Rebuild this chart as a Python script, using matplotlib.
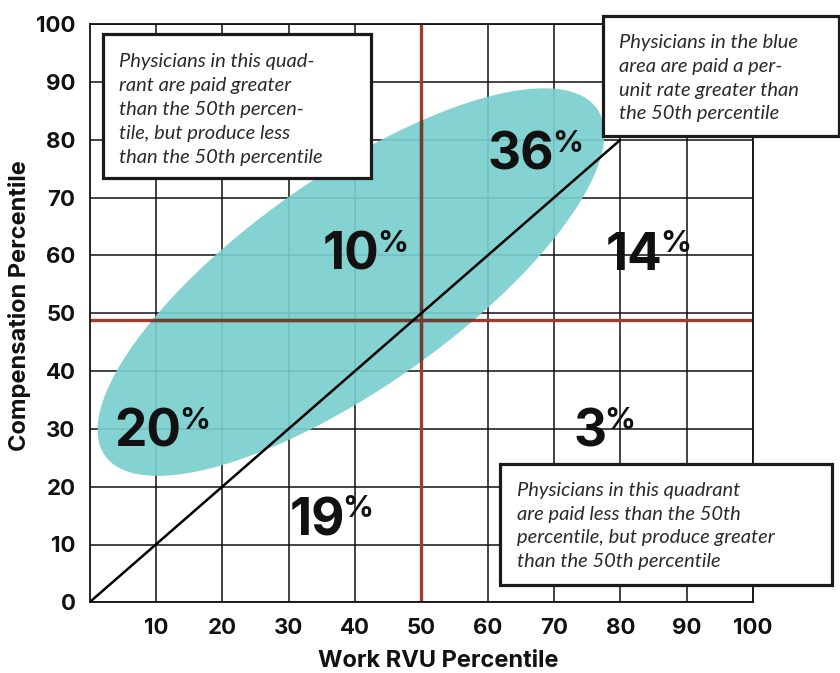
import numpy as np
import matplotlib
matplotlib.use("Agg")
import matplotlib.pyplot as plt
from matplotlib.patches import Rectangle, Polygon

# ---------------- data ----------------
x_ticks = [10, 20, 30, 40, 50, 60, 70, 80, 90, 100]
y_ticks = [0, 10, 20, 30, 40, 50, 60, 70, 80, 90, 100]
median_x = 50
median_y = 48.8
diag_x = [0, 80]
diag_y = [0, 80]

# quadrant shares: label, x (right edge of number), baseline y
share_labels = ["36", "10", "14", "20", "19", "3"]
share_x = [70.1, 43.75, 86.4, 13.9, 38.5, 77.9]
share_y = [74.8, 57.5, 57.5, 26.9, 11.6, 26.9]

# blue area (ellipse): centre in data units, axes in pixels, angle
ell_center = (39.4, 55.4)
ell_semi_major_px = 301
ell_semi_minor_px = 105.5
ell_angle_deg = 35.2

box1_lines = ["Physicians in this quad-", "rant are paid greater",
              "than the 50th percen-", "tile, but produce less",
              "than the 50th percentile"]
box2_lines = ["Physicians in the blue", "area are paid a per-",
              "unit rate greater than", "the 50th percentile"]
box3_lines = ["Physicians in this quadrant", "are paid less than the 50th",
              "percentile, but produce greater", "than the 50th percentile"]

# ---------------- figure ----------------
W, H = 840, 673
fig = plt.figure(figsize=(W / 100, H / 100), dpi=100)
ax_l, ax_r, ax_t, ax_b = 89.5, 753, 24.3, 602.3
ax = fig.add_axes([ax_l / W, 1 - ax_b / H, (ax_r - ax_l) / W, (ax_b - ax_t) / H])
ax.set_xlim(0, 100)
ax.set_ylim(0, 100)
sx = (ax_r - ax_l) / 100.0
sy = (ax_b - ax_t) / 100.0

BOLD = ["Inter", "DejaVu Sans"]
ITAL = ["Lato", "DejaVu Sans"]
TEAL = "#7acece"
RED = "#9e3b2e"
RED_DARK = "#6b3f33"

# grid
ax.set_xticks(x_ticks)
ax.set_yticks(y_ticks)
ax.grid(True, color="#111111", linewidth=1.1, zorder=1)
ax.set_axisbelow(True)
for s in ax.spines.values():
    s.set_color("#111111")
    s.set_linewidth(1.3)
    s.set_zorder(6)
ax.tick_params(length=0)
ax.tick_params(axis="y", pad=10)
ax.tick_params(axis="x", pad=11)
for lab in ax.get_xticklabels() + ax.get_yticklabels():
    lab.set_fontfamily(BOLD)
    lab.set_fontweight("bold")
    lab.set_fontsize(16)
    lab.set_color("#111111")

# ellipse (computed in pixel space, converted to data units)
t = np.linspace(0, 2 * np.pi, 400)
th = np.deg2rad(ell_angle_deg)
px = ell_semi_major_px * np.cos(t) * np.cos(th) - ell_semi_minor_px * np.sin(t) * np.sin(th)
py = ell_semi_major_px * np.cos(t) * np.sin(th) + ell_semi_minor_px * np.sin(t) * np.cos(th)
ex = ell_center[0] + px / sx
ey = ell_center[1] + py / sy
ell = Polygon(np.column_stack([ex, ey]), closed=True, facecolor=TEAL,
              edgecolor="none", alpha=0.92, zorder=2)
ax.add_patch(ell)

# median lines
ax.axvline(median_x, color=RED, linewidth=2.4, zorder=3)
ax.axhline(median_y, color=RED, linewidth=2.4, zorder=3)
l1 = ax.axvline(median_x, color=RED_DARK, linewidth=2.4, zorder=3.1)
l2 = ax.axhline(median_y, color=RED_DARK, linewidth=2.4, zorder=3.1)
l1.set_clip_path(ell)
l2.set_clip_path(ell)

# diagonal
ax.plot(diag_x, diag_y, color="black", linewidth=1.8, zorder=4,
        solid_capstyle="butt")

# share labels
for lab, x, y in zip(share_labels, share_x, share_y):
    ax.text(x, y, lab, ha="right", va="baseline", fontsize=37,
            fontfamily=BOLD, fontweight="bold", color="#111111", zorder=5)
    ax.text(x - 0.35, y + 3.1, "%", ha="left", va="baseline", fontsize=22,
            fontfamily=BOLD, fontweight="bold", color="#111111", zorder=5)

ax.set_xlabel("Work RVU Percentile", fontsize=17, fontfamily=BOLD,
              fontweight="bold", color="#111111")
ax.set_ylabel("Compensation Percentile", fontsize=17, fontfamily=BOLD,
              fontweight="bold", color="#111111")
ax.xaxis.set_label_coords(0.525, -0.0825)
ax.yaxis.set_label_coords(-0.088, 0.5135)


def fx(p):
    return p / W


def fy(p):
    return 1 - p / H


def box(x0, y0, x1, y1, tx, ty0, lines, dy=23.9):
    r = Rectangle((fx(x0), fy(y1)), fx(x1) - fx(x0), fy(y0) - fy(y1),
                  transform=fig.transFigure, facecolor="white",
                  edgecolor="#1a1a1a", linewidth=2.3, zorder=10,
                  clip_on=False)
    fig.patches.append(r)
    for i, line in enumerate(lines):
        fig.text(fx(tx), fy(ty0 + i * dy), line, ha="left", va="baseline",
                 fontsize=14.5, fontfamily=ITAL, fontstyle="italic",
                 fontweight="normal", color="#2a2a2a", zorder=11)


box(103, 34, 371, 178.5, 119, 67, box1_lines, 24)
box(602.5, 15.5, 838.5, 135.5, 619, 48.3, box2_lines, 23.7)
box(499.5, 464, 832, 585, 517, 495.7, box3_lines, 23.9)

fig.savefig("out.png", dpi=100)
